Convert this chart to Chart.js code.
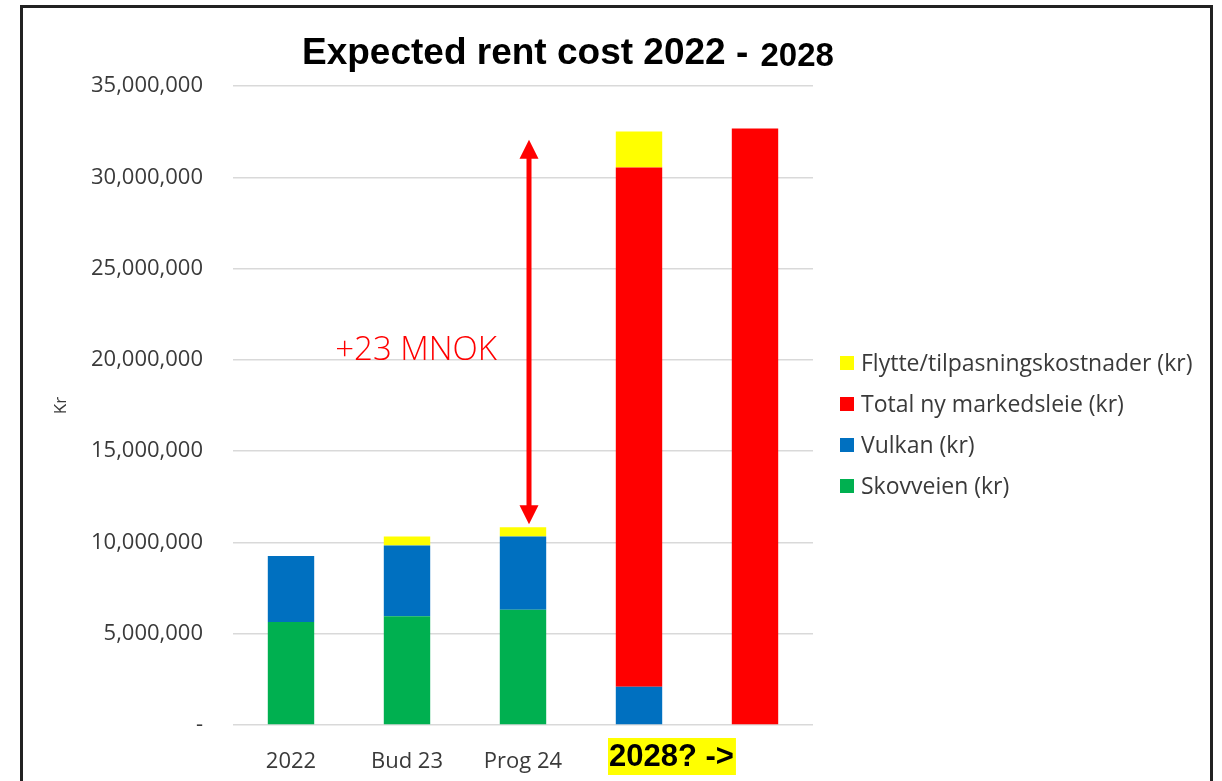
<!DOCTYPE html>
<html>
<head>
<meta charset="utf-8">
<script src="https://cdn.jsdelivr.net/npm/chart.js@4/dist/chart.umd.min.js"></script>
<style>
  html, body { margin: 0; padding: 0; background: #fff; }
  #wrap { position: relative; width: 1222px; height: 781px; overflow: hidden; }
  #frame { position: absolute; left: 20px; top: 5px; width: 1187px; height: 820px; border: 3px solid #222; }
  #box { position: absolute; left: 0; top: 0; width: 1222px; height: 781px; }
</style>
</head>
<body>
<div id="wrap">
  <div id="frame"></div>
  <div id="box"><canvas id="rentChart"></canvas></div>
</div>
<script>
// Kategorier og verdier (kr)
var categories = ['2022', 'Bud 23', 'Prog 24', '2028? ->', ''];
var skovveien   = [5640000, 5950000, 6310000, null, null];
var vulkan      = [3620000, 3880000, 4010000, 2100000, null];
var markedsleie = [null, null, null, 28440000, 32670000];
var flytte      = [null, 490000, 510000, 1970000, null];

var yTicks = [0, 5000000, 10000000, 15000000, 20000000, 25000000, 30000000, 35000000];

// pil "+23 MNOK"
var arrowFrom = 11000000;
var arrowTo = 32050000;
var arrowLabel = '+23 MNOK';

var calibriLike = 'Open Sans';
var textGrey = '#3a3a3a';

// Tittel, egen legend, pil og 2028-etikett
var extras = {
    id: 'extras',
    afterDraw: function (chart) {
        var ctx = chart.ctx;
        var x = chart.scales.x, y = chart.scales.y;
        ctx.save();

        // tittel
        ctx.fillStyle = '#000';
        ctx.textBaseline = 'alphabetic';
        ctx.textAlign = 'left';
        ctx.font = 'bold 37px "Liberation Sans", Arial';
        var t1 = 'Expected rent cost 2022 - ';
        ctx.fillText(t1, 302, 64);
        var w1 = ctx.measureText(t1).width;
        ctx.font = 'bold 33px "Liberation Sans", Arial';
        ctx.fillText('2028', 302 + w1 + 2, 66);

        // legend (omvendt rekkefølge)
        var ds = chart.data.datasets.slice().reverse();
        ctx.font = '23px "' + calibriLike + '"';
        ctx.textBaseline = 'middle';
        ds.forEach(function (d, i) {
            var cy = 363 + i * 41;
            ctx.fillStyle = d.backgroundColor;
            ctx.fillRect(840, cy - 7, 14, 14);
            ctx.fillStyle = textGrey;
            ctx.fillText(d.label, 861, cy + 1);
        });

        // dobbel pil
        var ax = x.getPixelForValue(2) + 6;
        var yTop = y.getPixelForValue(arrowTo);
        var yBot = y.getPixelForValue(arrowFrom);
        var head = 19;
        ctx.strokeStyle = '#ff0000';
        ctx.fillStyle = '#ff0000';
        ctx.lineWidth = 5;
        ctx.beginPath();
        ctx.moveTo(ax, yTop + head - 2);
        ctx.lineTo(ax, yBot - head + 2);
        ctx.stroke();
        ctx.beginPath();
        ctx.moveTo(ax, yTop);
        ctx.lineTo(ax - head / 2, yTop + head);
        ctx.lineTo(ax + head / 2, yTop + head);
        ctx.closePath();
        ctx.fill();
        ctx.beginPath();
        ctx.moveTo(ax, yBot);
        ctx.lineTo(ax - head / 2, yBot - head);
        ctx.lineTo(ax + head / 2, yBot - head);
        ctx.closePath();
        ctx.fill();

        ctx.font = '300 33px "' + calibriLike + '"';
        ctx.textAlign = 'right';
        ctx.textBaseline = 'alphabetic';
        ctx.fillText(arrowLabel, ax - 32, y.getPixelForValue(20000000));

        // 2028-etikett med gul bakgrunn
        var lx = x.getPixelForValue(3) - 30;
        ctx.font = 'bold 31px "Liberation Sans", Arial';
        var lw = ctx.measureText(categories[3]).width;
        ctx.fillStyle = '#ffff00';
        ctx.fillRect(lx - 1, 738, lw + 3, 37);
        ctx.fillStyle = '#000';
        ctx.textAlign = 'left';
        ctx.textBaseline = 'middle';
        ctx.fillText(categories[3], lx, 757);

        ctx.restore();
    }
};

var ctxRent = document.getElementById('rentChart').getContext('2d');
var rentChart = new Chart(ctxRent, {
    type: 'bar',
    data: {
        labels: categories,
        datasets: [
            { label: 'Skovveien (kr)', data: skovveien, backgroundColor: '#00b050' },
            { label: 'Vulkan (kr)', data: vulkan, backgroundColor: '#0070c0' },
            { label: 'Total ny markedsleie (kr)', data: markedsleie, backgroundColor: '#ff0000' },
            { label: 'Flytte/tilpasningskostnader (kr)', data: flytte, backgroundColor: '#ffff00' }
        ]
    },
    options: {
        responsive: true,
        maintainAspectRatio: false,
        animation: false,
        layout: { padding: { top: 86, right: 409, bottom: 0, left: 0 } },
        datasets: { bar: { barPercentage: 0.4, categoryPercentage: 1, borderWidth: 0 } },
        plugins: {
            legend: { display: false },
            title: { display: false },
            tooltip: { enabled: false }
        },
        scales: {
            x: {
                stacked: true,
                grid: { display: false },
                border: { display: false },
                ticks: {
                    color: textGrey,
                    font: { family: calibriLike, size: 22 },
                    padding: 16,
                    callback: function (v, i) { return i === 3 ? '' : categories[i]; }
                },
                afterFit: function (s) { s.height = 56; }
            },
            y: {
                stacked: true,
                min: 0,
                max: 35000000,
                afterBuildTicks: function (s) { s.ticks = yTicks.map(function (v) { return { value: v }; }); },
                grid: { color: '#d9d9d9', lineWidth: 1.5, drawTicks: false },
                border: { display: false },
                ticks: {
                    color: textGrey,
                    font: { family: calibriLike, size: 22 },
                    padding: 30,
                    callback: function (v) { return v === 0 ? '-' : v.toLocaleString('en-US'); }
                },
                title: {
                    display: true,
                    text: 'Kr',
                    color: textGrey,
                    font: { family: calibriLike, size: 17 },
                    padding: { top: 51 }
                },
                afterFit: function (s) { s.width = 233; }
            }
        }
    },
    plugins: [extras]
});
</script>
</body>
</html>
